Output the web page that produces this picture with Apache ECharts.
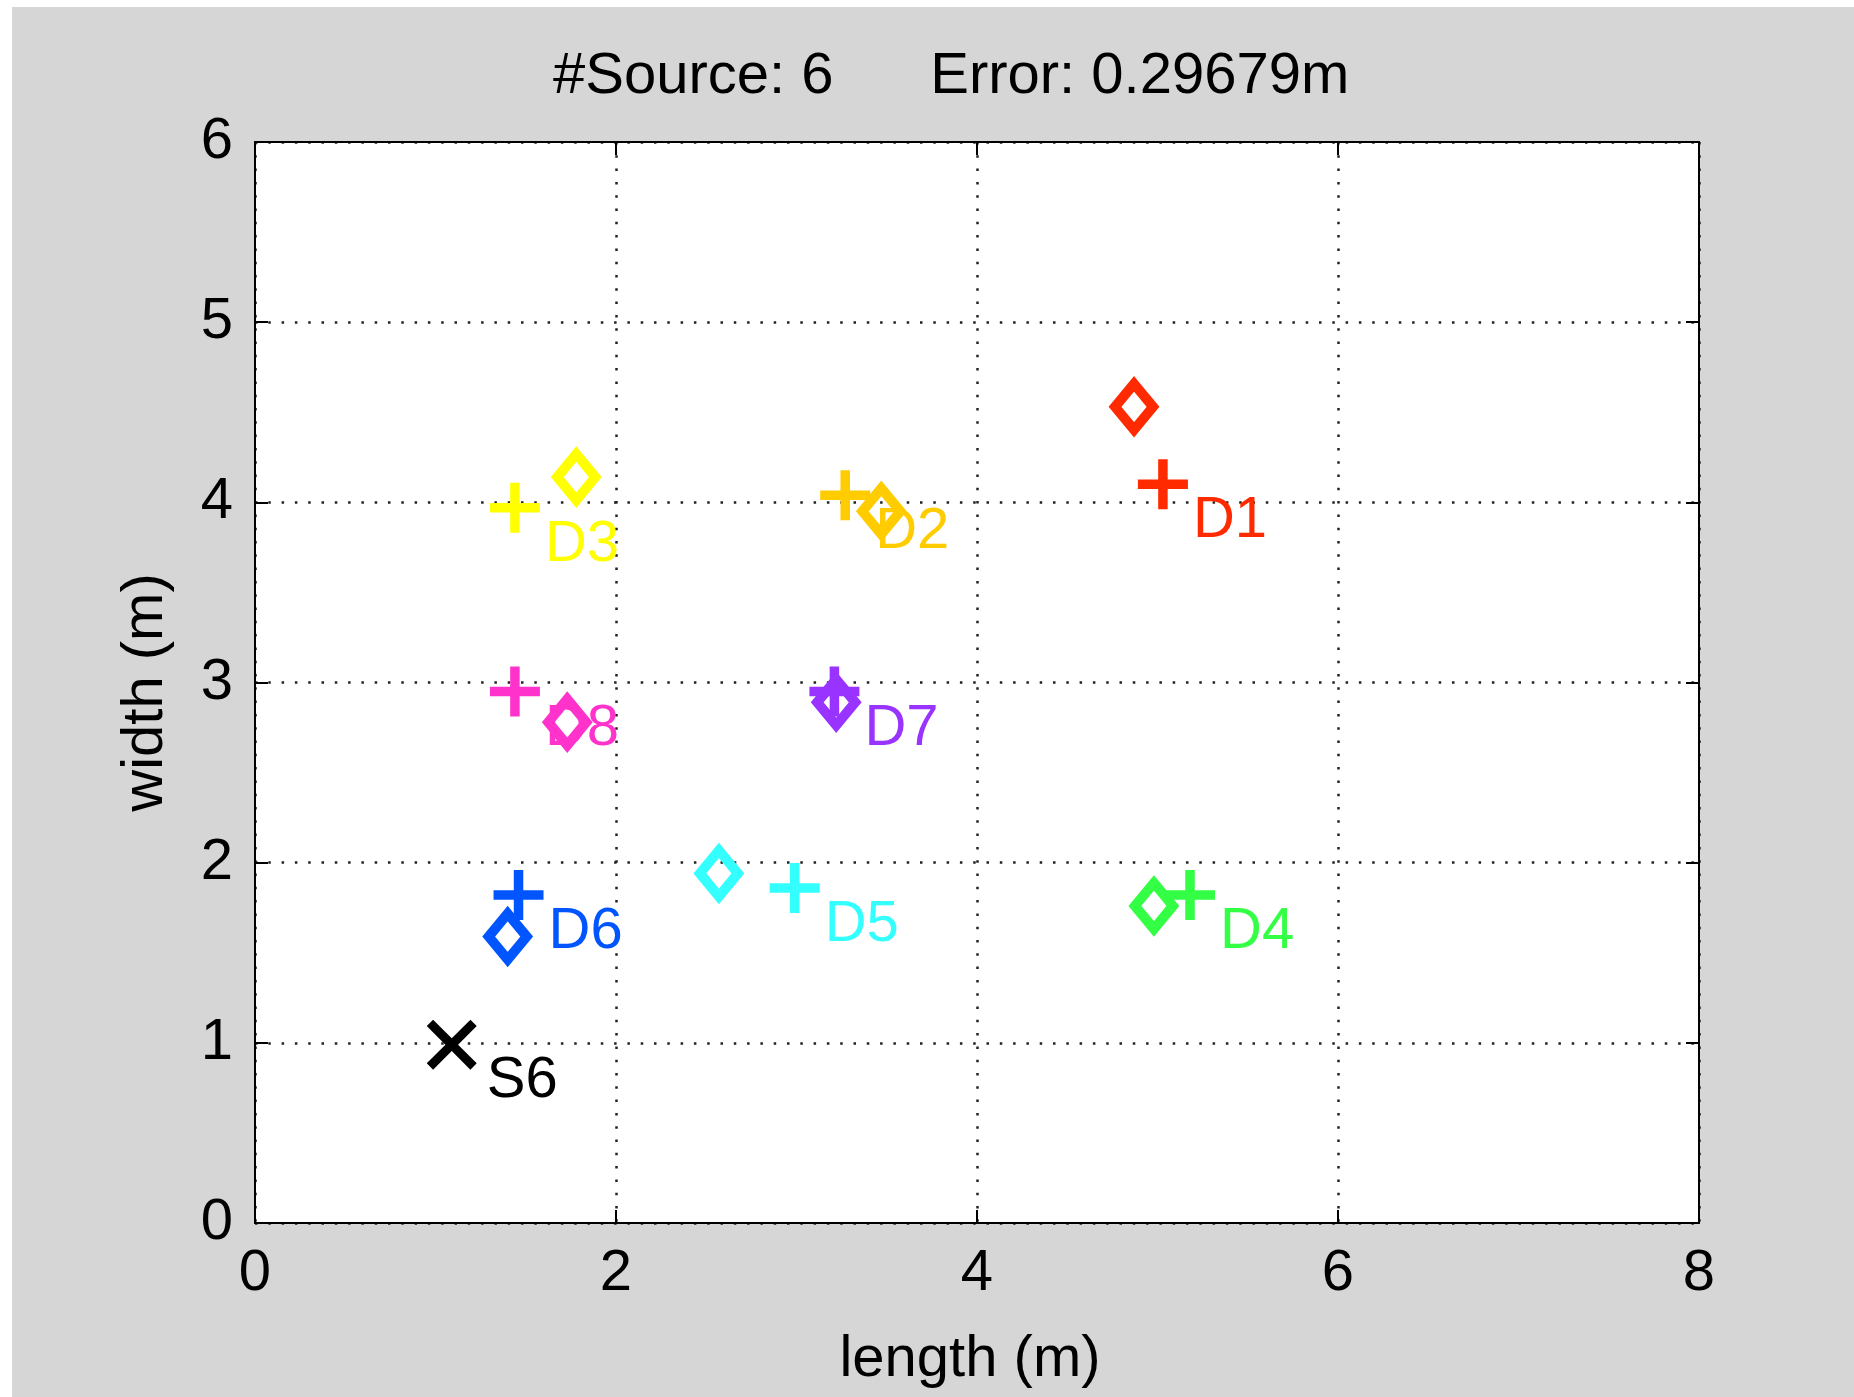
<!DOCTYPE html>
<html>
<head>
<meta charset="utf-8">
<script src="https://cdn.jsdelivr.net/npm/echarts@6/dist/echarts.min.js"></script>
<style>
    html, body { margin: 0; padding: 0; background: #fff; }
    #chart { width: 1854px; height: 1397px; }
</style>
</head>
<body>
<div id="chart"></div>
<script>
// 裝置名稱與實際位置(+)、估計位置(◇)
const deviceNames = ["D1", "D2", "D3", "D4", "D5", "D6", "D7", "D8"];
const trueX = [5.03, 3.27, 1.44, 5.18, 2.99, 1.46, 3.21, 1.44];
const trueY = [4.10, 4.04, 3.97, 1.82, 1.86, 1.82, 2.95, 2.95];
const estX = [4.87, 3.47, 1.78, 4.98, 2.57, 1.40, 3.22, 1.73];
const estY = [4.53, 3.95, 4.14, 1.76, 1.94, 1.59, 2.89, 2.78];

// 聲源
const sourceName = "S6";
const sourceX = [1.09];
const sourceY = [0.99];

const xTicks = [0, 2, 4, 6, 8];
const yTicks = [0, 1, 2, 3, 4, 5, 6];
const titleText = "#Source: 6      Error: 0.29679m";

const deviceColors = ["#ff2a00", "#ffcc00", "#ffff00", "#33ff44", "#33ffff", "#0055ff", "#9933ff", "#ff33cc"];
const FONT = '"Liberation Sans", Arial, Helvetica, sans-serif';

const PLUS = "path://M40.5,0H59.5V40.5H100V59.5H59.5V100H40.5V59.5H0V40.5H40.5Z";
const CROSS = "path://M0,12.7L12.7,0L50,37.3L87.3,0L100,12.7L62.7,50L100,87.3L87.3,100L50,62.7L12.7,100L0,87.3L37.3,50Z";

const chart = echarts.init(document.getElementById("chart"));

const axisLine = { show: true, onZero: false, lineStyle: { color: "#000", width: 2 } };
const axisTick = { show: true, inside: true, length: 13, lineStyle: { color: "#000", width: 2 } };
const dotted = { show: true, lineStyle: { type: [2.5, 10.8], color: "#222", width: 2.5 } };
const tickLabel = { margin: 22, fontSize: 58, color: "#000", fontFamily: FONT };

function xAxisDef(pos, main) {
    return {
        type: "value",
        position: pos,
        min: xTicks[0],
        max: xTicks[xTicks.length - 1],
        interval: xTicks[1] - xTicks[0],
        axisLine: axisLine,
        axisTick: axisTick,
        axisLabel: main ? tickLabel : { show: false },
        splitLine: main ? dotted : { show: false },
        name: main ? "length (m)" : "",
        nameLocation: "middle",
        nameGap: 108,
        nameTextStyle: { fontSize: 58, color: "#000", fontFamily: FONT, padding: [0, 14, 0, 0] },
    };
}

function yAxisDef(pos, main) {
    return {
        type: "value",
        position: pos,
        min: yTicks[0],
        max: yTicks[yTicks.length - 1],
        interval: yTicks[1] - yTicks[0],
        axisLine: axisLine,
        axisTick: axisTick,
        axisLabel: main ? tickLabel : { show: false },
        splitLine: main ? dotted : { show: false },
        name: main ? "width (m)" : "",
        nameLocation: "middle",
        nameGap: 80,
        nameTextStyle: { fontSize: 58, color: "#000", fontFamily: FONT, padding: [0, 20, 0, 0] },
    };
}

const labelBase = {
    show: true,
    formatter: "{b}",
    align: "left",
    verticalAlign: "middle",
    fontSize: 58,
    fontFamily: FONT,
};

chart.setOption({
    animation: false,
    backgroundColor: "#d6d6d6",
    title: {
        text: titleText,
        left: 553,
        top: 48,
        padding: 0,
        textStyle: { fontSize: 58, fontWeight: "normal", color: "#000", fontFamily: FONT, lineHeight: 58 },
    },
    grid: { left: 255, right: 155, top: 142, bottom: 174, show: true, backgroundColor: "#fff", borderWidth: 0 },
    xAxis: [xAxisDef("bottom", true), xAxisDef("top", false)],
    yAxis: [yAxisDef("left", true), yAxisDef("right", false)],
    graphic: [
        { type: "rect", shape: { x: 0, y: 0, width: 1854, height: 7 }, style: { fill: "#fff" } },
        { type: "rect", shape: { x: 0, y: 0, width: 12, height: 1397 }, style: { fill: "#fff" } },
    ],
    series: [
        {
            name: "estimate",
            type: "scatter",
            silent: true,
            symbol: "diamond",
            symbolSize: [38, 46],
            itemStyle: { opacity: 1 },
            data: estX.map((x, i) => ({
                value: [x, estY[i]],
                itemStyle: { color: "rgba(0,0,0,0)", borderColor: deviceColors[i], borderWidth: 10, opacity: 1 },
            })),
        },
        {
            name: "device",
            type: "scatter",
            silent: true,
            symbol: PLUS,
            symbolSize: 50,
            itemStyle: { opacity: 1 },
            label: Object.assign({}, labelBase, { position: [55, 62] }),
            data: trueX.map((x, i) => ({
                value: [x, trueY[i]],
                name: deviceNames[i],
                itemStyle: { color: deviceColors[i], opacity: 1 },
                label: { color: deviceColors[i] },
            })),
        },
        {
            name: "source",
            type: "scatter",
            silent: true,
            symbol: CROSS,
            symbolSize: 50,
            label: Object.assign({}, labelBase, { position: [60, 61], color: "#000" }),
            itemStyle: { color: "#000", opacity: 1 },
            data: sourceX.map((x, i) => ({ value: [x, sourceY[i]], name: sourceName })),
        },
    ],
});
</script>
</body>
</html>
